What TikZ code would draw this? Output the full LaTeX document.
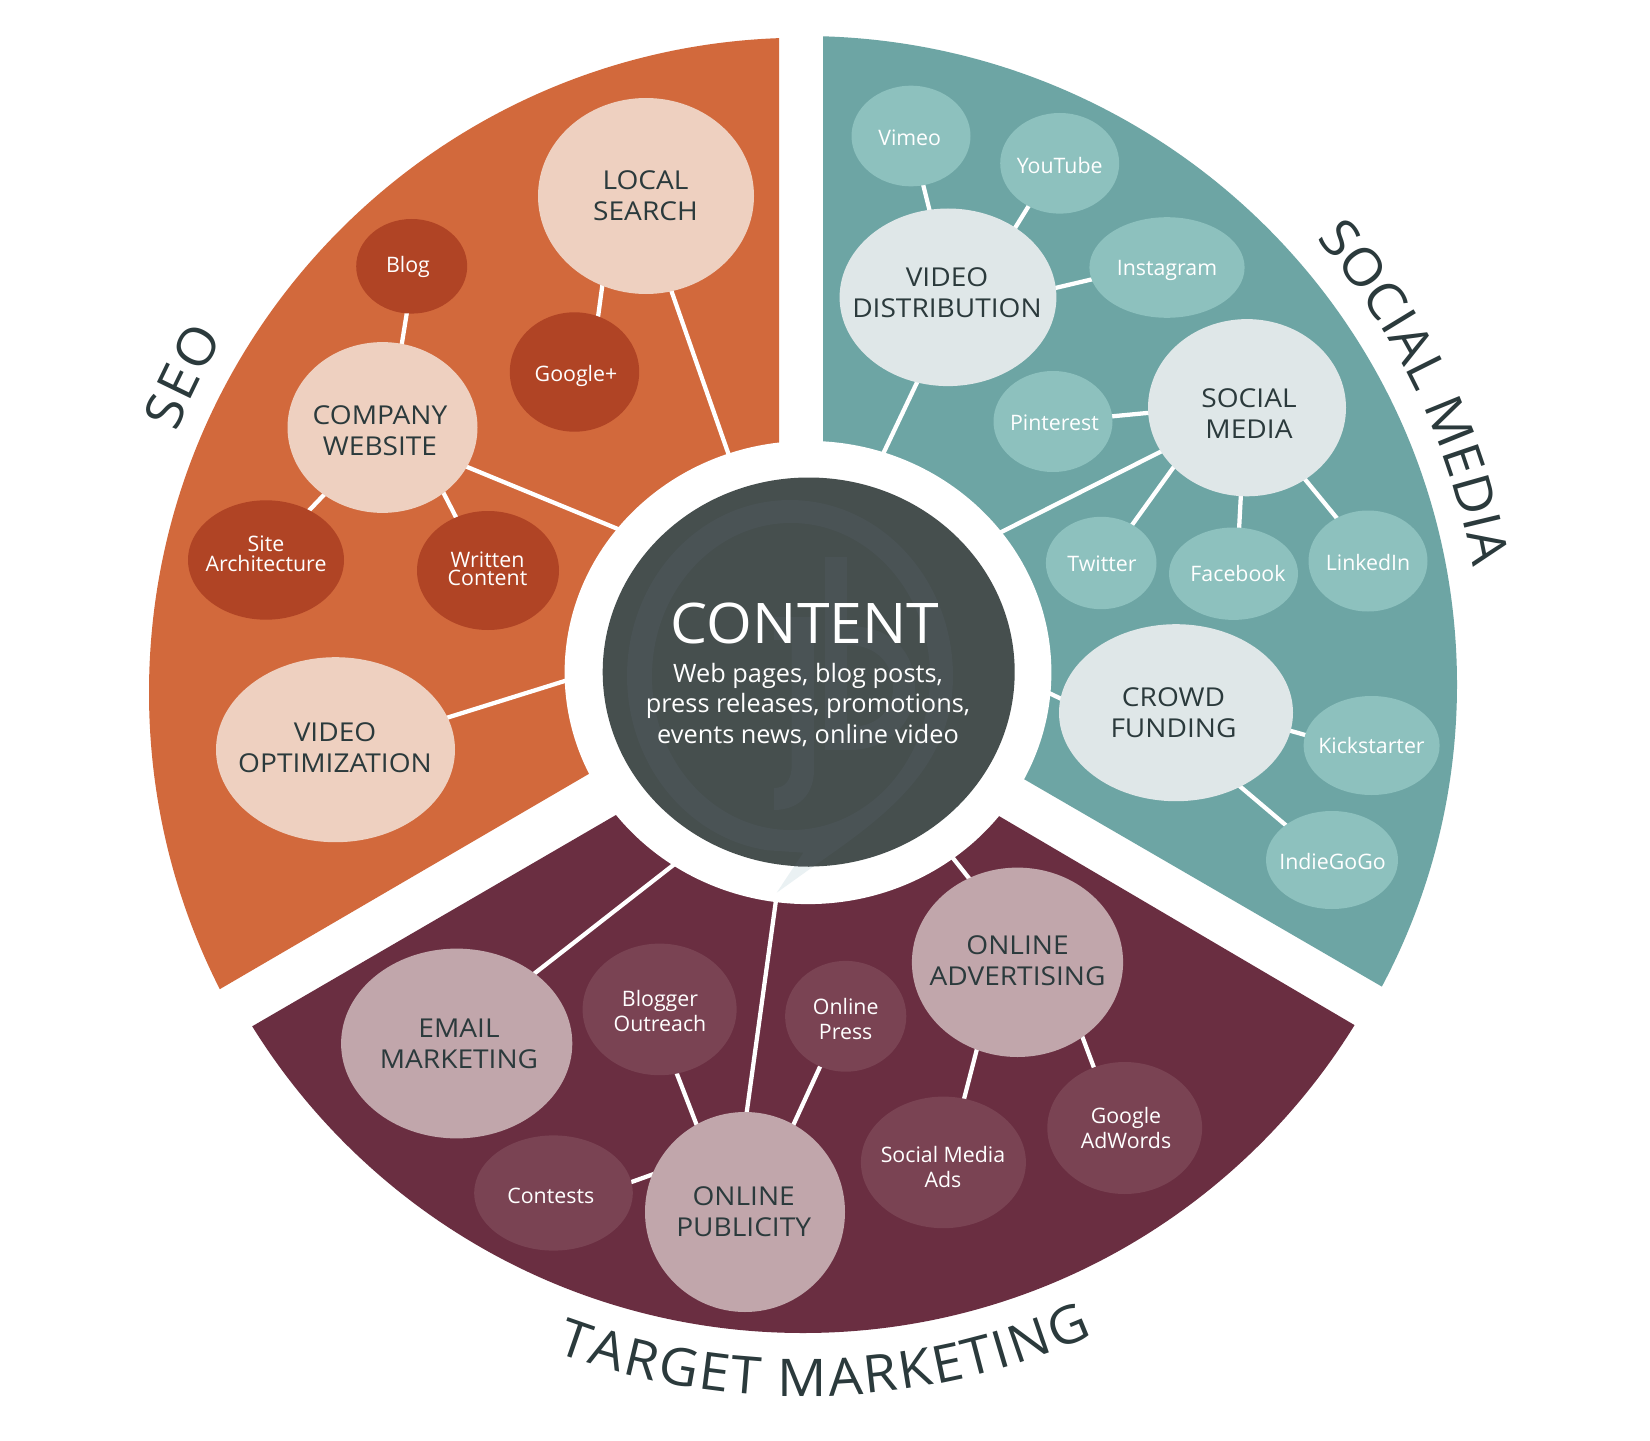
\documentclass[tikz,border=0pt]{standalone}
\usepackage{fontspec}
\setmainfont{Open Sans}
\newfontfamily\widefam[FakeStretch=1.08]{Open Sans}
\newfontfamily\titlefam[FakeStretch=1.05]{Open Sans}
\usetikzlibrary{shapes.geometric,calc,decorations.text}
\definecolor{wOrange}{HTML}{D2693C}
\definecolor{wTeal}{HTML}{6DA5A4}
\definecolor{wMaroon}{HTML}{6A2E41}
\definecolor{cDark}{HTML}{464F4E}
\definecolor{cMark}{HTML}{4A5355}
\definecolor{cTail}{HTML}{EAF1F3}
\definecolor{bPeach}{HTML}{EED0C0}
\definecolor{bRust}{HTML}{B04425}
\definecolor{bPale}{HTML}{DFE7E8}
\definecolor{bAqua}{HTML}{8DC1BE}
\definecolor{bMauve}{HTML}{C1A6AB}
\definecolor{bPlum}{HTML}{7A4353}
\definecolor{inkDark}{HTML}{2B3A3C}
\newcommand\bigfont{\widefam\fontsize{19.5}{23.2}\selectfont}
\newcommand\smallfont{\fontsize{16}{18.7}\selectfont}
\newcommand\arcfont{\titlefam\fontsize{39}{43}\selectfont\color{inkDark}}
\pgfdeclarelayer{wedges}
\pgfdeclarelayer{conn}
\pgfdeclarelayer{ringlayer}
\pgfsetlayers{wedges,conn,ringlayer,main}
\tikzset{
  bubble/.style={shape=ellipse,inner sep=0pt,outer sep=0pt},
  peach/.style={bubble,fill=bPeach},
  rust/.style={bubble,fill=bRust},
  pale/.style={bubble,fill=bPale},
  aqua/.style={bubble,fill=bAqua},
  mauve/.style={bubble,fill=bMauve},
  plum/.style={bubble,fill=bPlum},
  big label/.style={text=inkDark,font=\bigfont,align=center,inner sep=0pt},
  small label/.style={text=white,font=\smallfont,align=center,inner sep=0pt},
  peach text/.style={big label},
  pale text/.style={big label},
  mauve text/.style={big label},
  rust text/.style={small label},
  aqua text/.style={small label},
  plum text/.style={small label},
  conn/.style={draw=white,line width=3.2pt,shorten <=-2pt,shorten >=-2pt},
}
% style, name, cx, cy, rx, ry, tx, ty, text
\newcommand\bub[9]{%
  \node[#1,minimum width={1.5pt*#5},minimum height={1.5pt*#6}] (#2) at (#3,#4) {};
  \node[#1 text] (#2t) at (#7,#8) {#9};
}
\newcommand\link[2]{\draw[conn] (#1) -- (#2);}
\begin{document}
\begin{tikzpicture}[x=0.75pt,y=-0.75pt]
\useasboundingbox (0,0) rectangle (1650,1441);
\coordinate (O) at (803,684.5);
\begin{pgfonlayer}{wedges}
\fill[white] (0,0) rectangle (1650,1441);
\begin{scope}
  \clip (779,-50) -- (779,663) -- (-200,1234) -- (-200,-50) -- cycle;
  \fill[wOrange] (803,692.5) ellipse [x radius=654,y radius=654.8];
\end{scope}
\begin{scope}
  \clip (823,-50) -- (823,662.6) -- (1800,1229) -- (1800,-50) -- cycle;
  \fill[wTeal] (O) ellipse [x radius=654,y radius=648.5];
\end{scope}
\begin{scope}
  \clip (-200,1289) -- (807.7,703.6) -- (1800,1287) -- (1800,1600) -- (-200,1600) -- cycle;
  \fill[wMaroon] (O) ellipse [x radius=648,y radius=648.5];
\end{scope}
\end{pgfonlayer}
\begin{pgfonlayer}{ringlayer}
  \node[bubble,fill=white,minimum width={1.5pt*243.4},minimum height={1.5pt*231.6}] (ring) at (808,672.5) {};
  \fill[cTail] (776.7,892.7) -- (803.3,852.7) -- (813,866.7) -- cycle;
\end{pgfonlayer}
\node[bubble,fill=cDark,minimum width={1.5pt*206},minimum height={1.5pt*194.5}] (content) at (808.7,672) {};
\begin{scope}
  \clip (808.7,672) ellipse [x radius=206,y radius=194.5];
  \fill[cMark,even odd rule]
    (803.3,852.7) -- (776.7,892.7) -- (813,866.7)
      .. controls (880,820) and (953,770) .. (953,676)
      arc [start angle=0,end angle=-180,x radius=163,y radius=176]
      arc [start angle=180,end angle=98,x radius=163,y radius=176] -- cycle
    (930,676.5) arc [start angle=0,end angle=360,x radius=139,y radius=153.5];
  \fill[cMark] (774,617) -- (814,617) -- (814,770) .. controls (814,795) and (798,810) .. (774,810)
     -- (774,788) .. controls (785,788) and (791.7,780) .. (791.7,765) -- (791.7,640) -- (774,640) -- cycle;
  \fill[cMark,even odd rule] (825,557) -- (847,557) -- (847,626)
     .. controls (895,626) and (915,655) .. (915,688)
     .. controls (915,725) and (885,750) .. (850,750) -- (825,750) -- cycle
     (847,645) .. controls (878,645) and (893,665) .. (893,688)
     .. controls (893,712) and (875,727) .. (850,727) -- (847,727) -- cycle;
\end{scope}
\node[text=white,font=\titlefam\fontsize{42}{46}\selectfont,inner sep=0pt] (ctitle) at (805,623) {CONTENT};
\node[text=white,font=\fontsize{19}{22.8}\selectfont,align=center,inner sep=0pt] (csub) at (808,705)
  {Web pages, blog posts,\\press releases, promotions,\\events news, online video};
% SEO
\bub{peach}{ls}{646}{196}{108}{98}{645.5}{196}{LOCAL\\SEARCH}
\bub{rust}{blog}{411.7}{266.3}{55.5}{47.3}{408}{267}{Blog}
\bub{rust}{gp}{574.5}{372}{64.7}{59.7}{576}{375.5}{Google+}
\bub{peach}{cw}{382.5}{427.5}{95}{85.4}{380}{431}{COMPANY\\WEBSITE}
\bub{rust}{site}{266}{560}{78}{59.7}{266}{554}{Site\\[-4pt]Architecture}
\bub{rust}{writ}{488}{570.5}{71}{59.5}{487.5}{569}{Written\\[-5pt]Content}
\bub{peach}{vo}{335.5}{749.7}{119.5}{92.5}{335}{748}{VIDEO\\OPTIMIZATION}
% Social media
\bub{aqua}{vimeo}{911}{136}{59.5}{50.3}{909.7}{137.5}{Vimeo}
\bub{aqua}{yt}{1059.7}{163.3}{59.5}{50.3}{1059.7}{166}{YouTube}
\bub{aqua}{insta}{1167}{267.5}{77.6}{50.3}{1167}{270}{Instagram}
\bub{pale}{vd}{948}{297.3}{108.4}{88.8}{947}{293}{VIDEO\\DISTRIBUTION}
\bub{pale}{sm}{1247}{407.7}{99}{88.6}{1249}{413.5}{SOCIAL\\MEDIA}
\bub{aqua}{pin}{1053}{421.5}{59.5}{50.5}{1054.4}{423}{Pinterest}
\bub{aqua}{tw}{1101.2}{563}{55.3}{46.2}{1102}{564}{Twitter}
\bub{aqua}{fb}{1233.5}{573.7}{64.5}{46.2}{1238}{573}{Facebook}
\bub{aqua}{li}{1368}{561}{59.5}{50.5}{1368}{562}{LinkedIn}
\bub{pale}{cf}{1176}{712.7}{117}{88.5}{1173.5}{712.3}{CROWD\\FUNDING}
\bub{aqua}{kick}{1371.6}{745.5}{68}{49.5}{1371.5}{745.5}{Kickstarter}
\bub{aqua}{indie}{1332}{860}{66}{49}{1332.5}{861}{IndieGoGo}
% Target marketing
\bub{mauve}{em}{456.7}{1043.5}{115.6}{94.9}{459}{1044}{EMAIL\\MARKETING}
\bub{plum}{blogger}{659.6}{1009.4}{77}{65.8}{660}{1011}{Blogger\\Outreach}
\bub{plum}{press}{845.7}{1016.3}{60.6}{55.4}{845.7}{1019}{Online\\Press}
\bub{mauve}{oa}{1017.5}{962.3}{105.6}{94.7}{1017.5}{961}{ONLINE\\ADVERTISING}
\bub{plum}{adw}{1124.7}{1128}{77.4}{66}{1126}{1128}{Google\\AdWords}
\bub{plum}{ads}{943.4}{1162.4}{82.5}{65.8}{943}{1167}{Social Media\\Ads}
\bub{mauve}{op}{745}{1212}{100}{100}{743.7}{1211.5}{ONLINE\\PUBLICITY}
\bub{plum}{cont}{553.5}{1193}{79.3}{57.6}{550.8}{1195.5}{Contests}
\begin{pgfonlayer}{conn}
\link{ls.244.1}{gp.67.1}
\link{ls.-75.5}{ring.110.2}
\link{blog.-96.6}{cw.77.7}
\link{cw.-131.9}{site.49.6}
\link{cw.-47.7}{writ.121}
\link{cw.-25.7}{ring.143.7}
\link{vo.16.6}{ring.182}
\link{vimeo.-76.1}{vd.102.1}
\link{yt.-126.5}{vd.46.9}
\link{insta.-171.9}{vd.5.7}
\link{vd.-110.5}{ring.71.5}
\link{pin.5.3}{sm.183.2}
\link{sm.207.6}{ring.36.4}
\link{sm.219.6}{tw.51.4}
\link{sm.266.9}{fb.83.1}
\link{sm.-51}{li.126.2}
\link{cf.173.2}{ring.-5.8}
\link{cf.-9.5}{kick.171.2}
\link{cf.-49.5}{indie.143}
\link{em.42}{ring.235.2}
\link{op.89.6}{ring.262.2}
\link{op.119.1}{blogger.-75.9}
\link{op.61.5}{press.-117.6}
\link{op.158.8}{cont.8.5}
\link{oa.120.5}{ring.-52.4}
\link{oa.-115.5}{ads.72.4}
\link{oa.-49.8}{adw.117.7}
\end{pgfonlayer}
% Arc titles
\path[decorate,decoration={text along path,text align={fit to path},text={|\arcfont|SEO}}]
  ($(O)+(158.1:506.5pt)$) arc [start angle=158.1,end angle=149.1,radius=506.5pt];
\path[decorate,decoration={text along path,text align={fit to path},text={|\arcfont|SOCIAL MEDIA}}]
  ($(O)+(41:510pt)$) arc [start angle=41,end angle=10.4,radius=510pt];
\path[decorate,decoration={text along path,text align={fit to path},text={|\arcfont|TARGET MARKETING}}]
  ($(O)+(249.7:534pt)$) arc [start angle=249.7,end angle=294,radius=534pt];
\end{tikzpicture}
\end{document}
